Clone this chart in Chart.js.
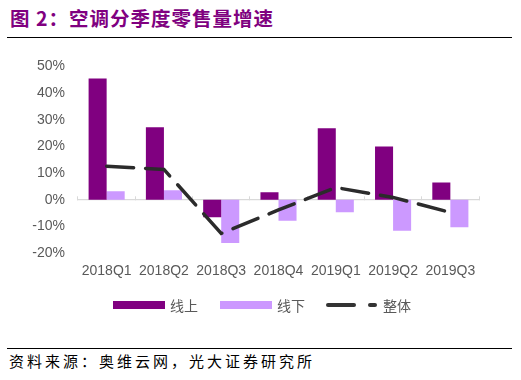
<!DOCTYPE html>
<html>
<head>
<meta charset="utf-8">
<script src="https://cdn.jsdelivr.net/npm/chart.js@4"></script>
<style>
  html, body { margin: 0; padding: 0; background: #fff; }
  body { width: 521px; height: 380px; position: relative; overflow: hidden; font-family: "Liberation Sans", Arial, sans-serif; }
  #title { position: absolute; left: 10px; top: 3px; font-family: "Noto Sans CJK SC", sans-serif; font-weight: bold; font-size: 19.5px; color: #800080; letter-spacing: 1px; white-space: nowrap; }
  #rule1 { position: absolute; left: 7px; width: 505px; top: 36.5px; height: 1.4px; background: #000; }
  #rule2 { position: absolute; left: 7px; width: 505px; top: 348px; height: 1.2px; background: #000; }
  #src { position: absolute; left: 9px; top: 350px; font-family: "Noto Sans CJK SC", sans-serif; font-size: 15px; color: #000; letter-spacing: 3px; white-space: nowrap; }
  #chartWrap { position: absolute; left: 0; top: 45px; width: 521px; height: 251px; }
  .sw { position: absolute; top: 301px; height: 8px; }
  .ln { position: absolute; top: 303px; height: 3.5px; background: #333; border-radius: 2px; }
  .lt { position: absolute; top: 296px; font-family: "Noto Sans CJK SC", sans-serif; font-size: 14px; color: #595959; line-height: 18px; }
</style>
</head>
<body>
<div id="title">图 2：空调分季度零售量增速</div>
<div id="rule1"></div>
<div id="chartWrap"><canvas id="c"></canvas></div>
<div class="sw" style="left:113px;width:52px;background:#800080;"></div>
<div class="lt" style="left:170px;">线上</div>
<div class="sw" style="left:220px;width:52px;background:#CC99FF;"></div>
<div class="lt" style="left:277px;">线下</div>
<div class="ln" style="left:326px;width:30px;"></div>
<div class="ln" style="left:368px;width:9px;"></div>
<div class="lt" style="left:383px;">整体</div>
<div id="rule2"></div>
<div id="src">资料来源：奥维云网，光大证券研究所</div>
<script>
const categories = ["2018Q1", "2018Q2", "2018Q3", "2018Q4", "2019Q1", "2019Q2", "2019Q3"];
const online  = [45.5, 27.2, -6.5, 2.8, 26.8, 20.0, 6.5];
const offline = [3.2, 3.6, -16.2, -7.8, -4.7, -11.6, -10.3];
const overall = [12.6, 11.4, -12.6, -3.8, 4.6, 0.9, -4.7];
const yTickMin = -20, yTickMax = 50, yTickStep = 10;
const seriesNames = ["线上", "线下", "整体"];

const axisFont = { family: "'Liberation Sans', Arial, sans-serif", size: 14 };
new Chart(document.getElementById('c'), {
  type: 'bar',
  data: {
    labels: categories,
    datasets: [
      { type: 'line', label: seriesNames[2], data: overall, borderColor: '#2b2b2b', borderWidth: 3.5,
        borderDash: [27, 12], borderCapStyle: 'round', pointRadius: 0, tension: 0, fill: false, order: 0, xAxisID: 'x', yAxisID: 'y' },
      { label: seriesNames[0], data: online, backgroundColor: '#800080', borderWidth: 0,
        barPercentage: 1, categoryPercentage: 0.63, order: 1, xAxisID: 'x', yAxisID: 'y' },
      { label: seriesNames[1], data: offline, backgroundColor: '#CC99FF', borderWidth: 0,
        barPercentage: 1, categoryPercentage: 0.63, order: 1, xAxisID: 'x', yAxisID: 'y' }
    ]
  },
  options: {
    responsive: true,
    maintainAspectRatio: false,
    animation: false,
    layout: { padding: { left: 0, right: 42, top: 20, bottom: 6 } },
    plugins: { legend: { display: false }, tooltip: { enabled: false } },
    scales: {
      x: {
        position: 'bottom',
        grid: { display: false, drawTicks: false },
        border: { display: false },
        ticks: { color: '#595959', font: axisFont, padding: 10, maxRotation: 0, autoSkip: false }
      },
      x2: {
        type: 'category',
        position: { y: 0 },
        offset: true,
        grid: { display: true, offset: true, drawOnChartArea: false, drawTicks: true, tickLength: -4, color: '#d9d9d9', lineWidth: 1 },
        border: { display: true, color: '#d9d9d9', width: 1.3 },
        ticks: { display: false }
      },
      y: {
        min: yTickMin, max: yTickMax,
        grid: { display: false, drawTicks: false },
        border: { display: false },
        ticks: { stepSize: yTickStep, color: '#595959', font: axisFont, padding: 13,
                 callback: v => v + '%' },
        afterFit: s => { s.width = 78; }
      }
    }
  }
});
</script>
</body>
</html>
